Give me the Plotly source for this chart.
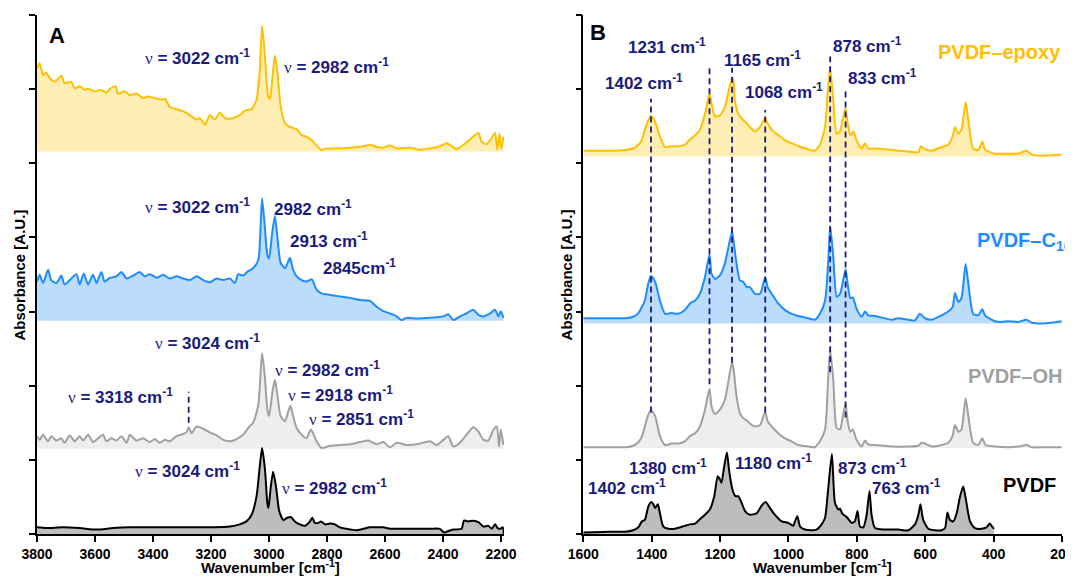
import plotly.graph_objects as go

# ---------------- Panel A data (3800-2190 cm-1), absorbance above each baseline ----------------
a_epoxy_wn = [3800, 3791, 3779, 3768, 3756, 3739, 3716, 3705, 3682, 3670, 3653, 3636, 3624, 3601, 3578, 3561,
              3549, 3529, 3521, 3497, 3480, 3457, 3434, 3417, 3394, 3371, 3359, 3342, 3319, 3296, 3273, 3250,
              3239, 3221, 3204, 3187, 3170, 3152, 3135, 3118, 3101, 3083, 3060, 3043, 3032, 3024, 3015, 3003,
              2997, 2988, 2980, 2972, 2960, 2945, 2928, 2905, 2888, 2871, 2853, 2836, 2819, 2802, 2767, 2721,
              2675, 2652, 2629, 2606, 2583, 2560, 2514, 2480, 2445, 2411, 2388, 2370, 2353, 2330, 2307, 2290,
              2278, 2267, 2250, 2232, 2221, 2213, 2206, 2199, 2192]
a_epoxy_abs = [1.12, 1.19, 1.03, 1.06, 0.99, 0.94, 1.02, 0.92, 0.94, 0.85, 0.88, 0.83, 0.85, 0.81, 0.83, 0.79,
               0.84, 0.88, 0.78, 0.81, 0.76, 0.78, 0.72, 0.74, 0.72, 0.70, 0.71, 0.60, 0.57, 0.54, 0.49, 0.43,
               0.45, 0.36, 0.49, 0.43, 0.52, 0.45, 0.44, 0.46, 0.49, 0.55, 0.57, 0.70, 1.10, 1.69, 1.33, 0.74,
               0.71, 1.01, 1.29, 1.10, 0.61, 0.38, 0.33, 0.30, 0.22, 0.20, 0.15, 0.08, 0.02, 0.04, 0.04, 0.05,
               0.07, 0.09, 0.06, 0.05, 0.08, 0.04, 0.05, 0.02, 0.04, 0.07, 0.11, 0.07, 0.03, 0.09, 0.16, 0.22,
               0.25, 0.13, 0.10, 0.18, 0.25, 0.02, 0.24, 0.04, 0.20]

a_c16_wn = [3800, 3791, 3779, 3762, 3751, 3733, 3716, 3705, 3687, 3664, 3653, 3639, 3624, 3607, 3595, 3578,
            3567, 3549, 3526, 3509, 3491, 3468, 3446, 3428, 3411, 3388, 3365, 3342, 3319, 3296, 3273, 3250,
            3227, 3204, 3181, 3158, 3135, 3118, 3106, 3089, 3072, 3055, 3037, 3029, 3024, 3016, 3006, 3000,
            2990, 2980, 2972, 2960, 2945, 2934, 2928, 2917, 2905, 2888, 2871, 2853, 2848, 2836, 2819, 2790,
            2756, 2721, 2687, 2652, 2629, 2606, 2583, 2560, 2543, 2526, 2491, 2445, 2399, 2382, 2365, 2342,
            2319, 2296, 2278, 2261, 2238, 2221, 2209, 2201, 2192]
a_c16_abs = [0.53, 0.62, 0.51, 0.69, 0.55, 0.51, 0.61, 0.49, 0.55, 0.63, 0.49, 0.64, 0.49, 0.62, 0.51, 0.66,
             0.53, 0.58, 0.60, 0.66, 0.57, 0.61, 0.66, 0.60, 0.63, 0.58, 0.62, 0.57, 0.60, 0.57, 0.55, 0.60,
             0.55, 0.52, 0.57, 0.55, 0.57, 0.51, 0.63, 0.61, 0.67, 0.71, 0.82, 1.29, 1.65, 1.34, 0.89, 0.84,
             1.16, 1.41, 1.16, 0.78, 0.71, 0.80, 0.85, 0.69, 0.60, 0.55, 0.53, 0.56, 0.53, 0.42, 0.37, 0.35,
             0.33, 0.31, 0.28, 0.27, 0.19, 0.13, 0.10, 0.06, 0.01, 0.04, 0.03, 0.04, 0.06, 0.09, 0.01, 0.06,
             0.10, 0.15, 0.08, 0.06, 0.10, 0.15, 0.06, 0.13, 0.04]

a_oh_wn = [3800, 3791, 3779, 3762, 3751, 3733, 3716, 3705, 3687, 3670, 3653, 3641, 3624, 3607, 3590, 3572,
           3561, 3544, 3526, 3509, 3491, 3480, 3457, 3434, 3411, 3394, 3377, 3359, 3342, 3319, 3302, 3285,
           3277, 3267, 3250, 3227, 3204, 3181, 3158, 3135, 3112, 3089, 3072, 3055, 3037, 3024, 3014, 3006,
           3000, 2988, 2980, 2972, 2960, 2945, 2934, 2926, 2917, 2905, 2888, 2871, 2856, 2848, 2836, 2819,
           2790, 2756, 2721, 2687, 2658, 2629, 2606, 2583, 2560, 2526, 2491, 2445, 2422, 2399, 2382, 2365,
           2342, 2319, 2296, 2278, 2261, 2244, 2226, 2215, 2207, 2201, 2192]
a_oh_abs = [0.17, 0.12, 0.19, 0.10, 0.17, 0.11, 0.14, 0.08, 0.18, 0.10, 0.17, 0.11, 0.19, 0.09, 0.14, 0.19,
            0.10, 0.14, 0.11, 0.17, 0.08, 0.19, 0.11, 0.14, 0.09, 0.13, 0.08, 0.12, 0.10, 0.17, 0.19, 0.22,
            0.29, 0.21, 0.30, 0.27, 0.22, 0.18, 0.12, 0.10, 0.13, 0.19, 0.28, 0.35, 0.59, 1.29, 0.95, 0.53,
            0.44, 0.77, 0.93, 0.75, 0.44, 0.37, 0.50, 0.58, 0.44, 0.28, 0.19, 0.14, 0.26, 0.21, 0.10, 0.01,
            0.04, 0.05, 0.06, 0.09, 0.11, 0.06, 0.09, 0.02, 0.08, 0.05, 0.06, 0.10, 0.05, 0.12, 0.17, 0.03,
            0.08, 0.19, 0.29, 0.23, 0.12, 0.11, 0.26, 0.30, 0.03, 0.26, 0.05]

a_pvdf_wn = [3800, 3768, 3710, 3653, 3595, 3538, 3480, 3423, 3365, 3308, 3250, 3193, 3135, 3101, 3078, 3060,
             3043, 3032, 3024, 3014, 3006, 3002, 2995, 2986, 2976, 2965, 2951, 2937, 2925, 2911, 2894, 2876,
             2859, 2851, 2842, 2830, 2821, 2807, 2790, 2773, 2756, 2733, 2698, 2675, 2652, 2629, 2606, 2583,
             2560, 2503, 2445, 2411, 2397, 2382, 2365, 2336, 2328, 2313, 2296, 2278, 2261, 2244, 2232, 2221,
             2212, 2203, 2194, 2190]
a_pvdf_abs = [0.09, 0.08, 0.09, 0.08, 0.06, 0.08, 0.09, 0.09, 0.09, 0.09, 0.09, 0.09, 0.10, 0.13, 0.17, 0.26,
              0.51, 0.91, 1.16, 0.87, 0.42, 0.35, 0.60, 0.84, 0.64, 0.31, 0.19, 0.22, 0.23, 0.17, 0.13, 0.11,
              0.17, 0.22, 0.15, 0.15, 0.17, 0.13, 0.14, 0.13, 0.09, 0.07, 0.05, 0.07, 0.09, 0.09, 0.09, 0.07,
              0.07, 0.07, 0.07, 0.07, 0.02, 0.04, 0.06, 0.07, 0.18, 0.17, 0.18, 0.16, 0.10, 0.11, 0.07, 0.13,
              0.08, 0.07, 0.09, -0.14]

# ---------------- Panel B data (1600-200 cm-1) ----------------
b_epoxy_wn = [1600, 1527, 1478, 1454, 1439, 1429, 1420, 1410, 1402, 1390, 1376, 1361, 1342, 1322, 1303, 1288,
              1273, 1259, 1244, 1231, 1225, 1215, 1200, 1186, 1165, 1161, 1157, 1147, 1132, 1122, 1113, 1098,
              1083, 1068, 1061, 1049, 1030, 1010, 991, 971, 942, 923, 908, 893, 884, 878, 869, 859, 849, 842,
              833, 827, 819, 810, 801, 786, 776, 767, 747, 698, 650, 620, 613, 601, 581, 552, 533, 520, 513,
              503, 494, 482, 474, 460, 445, 433, 424, 396, 357, 328, 304, 289, 260, 231, 201]
b_epoxy_abs = [0.08, 0.08, 0.09, 0.11, 0.16, 0.22, 0.36, 0.49, 0.55, 0.47, 0.27, 0.13, 0.14, 0.14, 0.16, 0.23,
               0.29, 0.36, 0.58, 0.85, 0.72, 0.54, 0.56, 0.67, 1.06, 1.03, 0.76, 0.58, 0.49, 0.45, 0.40, 0.34,
               0.40, 0.52, 0.45, 0.36, 0.29, 0.22, 0.18, 0.14, 0.10, 0.08, 0.16, 0.40, 0.94, 1.19, 0.76, 0.31,
               0.34, 0.49, 0.65, 0.45, 0.29, 0.34, 0.22, 0.11, 0.18, 0.11, 0.11, 0.09, 0.07, 0.06, 0.14, 0.10,
               0.08, 0.13, 0.16, 0.27, 0.40, 0.31, 0.36, 0.73, 0.49, 0.11, 0.09, 0.20, 0.09, 0.04, 0.04, 0.04,
               0.08, 0.03, 0.01, 0.02, 0.03]

b_c16_wn = [1600, 1527, 1478, 1454, 1439, 1429, 1420, 1410, 1402, 1390, 1376, 1361, 1342, 1322, 1303, 1288,
            1273, 1259, 1244, 1231, 1225, 1215, 1200, 1186, 1165, 1161, 1152, 1142, 1132, 1122, 1113, 1098,
            1083, 1068, 1061, 1049, 1030, 1010, 991, 971, 942, 923, 908, 893, 884, 878, 869, 859, 849, 842,
            833, 827, 819, 812, 801, 786, 776, 767, 747, 698, 679, 650, 630, 616, 601, 581, 552, 533, 520,
            513, 503, 494, 482, 474, 460, 445, 433, 424, 396, 377, 357, 328, 304, 289, 260, 231, 201]
b_c16_abs = [0.07, 0.07, 0.07, 0.09, 0.14, 0.22, 0.31, 0.54, 0.64, 0.56, 0.31, 0.13, 0.14, 0.13, 0.18, 0.27,
             0.31, 0.40, 0.63, 0.93, 0.67, 0.60, 0.65, 0.81, 1.24, 1.12, 0.81, 0.58, 0.56, 0.49, 0.49, 0.40,
             0.40, 0.62, 0.49, 0.40, 0.27, 0.18, 0.13, 0.10, 0.07, 0.05, 0.13, 0.31, 0.81, 1.31, 0.90, 0.36,
             0.40, 0.54, 0.73, 0.54, 0.34, 0.35, 0.20, 0.09, 0.16, 0.11, 0.10, 0.05, 0.07, 0.05, 0.04, 0.13,
             0.07, 0.05, 0.11, 0.16, 0.22, 0.41, 0.29, 0.34, 0.80, 0.54, 0.13, 0.11, 0.19, 0.10, 0.03, 0.02,
             0.03, 0.02, 0.05, 0.01, 0.00, 0.01, 0.03]

b_oh_wn = [1600, 1527, 1478, 1454, 1439, 1429, 1420, 1410, 1402, 1390, 1376, 1361, 1342, 1322, 1303, 1288,
           1273, 1259, 1244, 1231, 1225, 1215, 1200, 1186, 1165, 1161, 1152, 1142, 1132, 1122, 1113, 1098,
           1083, 1068, 1061, 1049, 1030, 1010, 991, 971, 942, 923, 908, 893, 884, 878, 869, 859, 849, 842,
           833, 827, 819, 812, 801, 786, 776, 767, 747, 698, 650, 620, 611, 601, 581, 552, 533, 520, 513,
           503, 494, 482, 474, 460, 445, 433, 424, 396, 357, 328, 304, 289, 260, 231, 201]
b_oh_abs = [0.01, 0.01, 0.01, 0.03, 0.08, 0.15, 0.29, 0.45, 0.51, 0.43, 0.16, 0.04, 0.06, 0.06, 0.09, 0.16,
            0.20, 0.29, 0.52, 0.80, 0.56, 0.46, 0.52, 0.65, 1.16, 1.08, 0.70, 0.47, 0.40, 0.37, 0.33, 0.29,
            0.31, 0.49, 0.36, 0.29, 0.20, 0.13, 0.09, 0.04, 0.02, 0.01, 0.09, 0.25, 0.92, 1.33, 0.92, 0.27,
            0.25, 0.40, 0.60, 0.36, 0.22, 0.25, 0.11, 0.02, 0.10, 0.05, 0.04, 0.02, 0.02, 0.03, 0.07, 0.06,
            0.02, 0.04, 0.07, 0.16, 0.31, 0.22, 0.25, 0.67, 0.43, 0.07, 0.04, 0.13, 0.04, 0.02, 0.01, 0.02,
            0.04, 0.01, 0.01, 0.01, 0.01]

b_pvdf_wn = [1600, 1527, 1478, 1454, 1439, 1429, 1420, 1410, 1402, 1395, 1390, 1382, 1376, 1366, 1351, 1332,
             1303, 1288, 1273, 1259, 1244, 1230, 1217, 1207, 1202, 1196, 1188, 1180, 1174, 1164, 1155, 1147,
             1137, 1127, 1113, 1093, 1079, 1067, 1054, 1040, 1020, 1001, 986, 981, 974, 966, 952, 932, 918,
             903, 893, 884, 873, 864, 854, 849, 842, 830, 815, 806, 798, 791, 781, 772, 763, 757, 747, 718,
             679, 650, 630, 620, 614, 606, 591, 572, 552, 542, 535, 528, 518, 508, 499, 489, 482, 469, 455,
             435, 421, 411, 406, 399]
b_pvdf_abs = [0.02, 0.03, 0.03, 0.05, 0.09, 0.17, 0.19, 0.37, 0.43, 0.40, 0.35, 0.40, 0.28, 0.10, 0.07, 0.07,
              0.11, 0.13, 0.14, 0.20, 0.26, 0.33, 0.51, 0.78, 0.75, 0.69, 0.91, 1.10, 0.87, 0.60, 0.51, 0.51,
              0.42, 0.31, 0.26, 0.28, 0.38, 0.43, 0.35, 0.26, 0.17, 0.15, 0.11, 0.17, 0.24, 0.10, 0.06, 0.05,
              0.06, 0.13, 0.22, 0.60, 1.08, 0.42, 0.33, 0.34, 0.27, 0.23, 0.15, 0.17, 0.31, 0.10, 0.09, 0.24,
              0.58, 0.26, 0.08, 0.06, 0.06, 0.05, 0.13, 0.26, 0.40, 0.19, 0.07, 0.05, 0.05, 0.08, 0.29, 0.19,
              0.17, 0.28, 0.49, 0.64, 0.49, 0.17, 0.08, 0.07, 0.09, 0.14, 0.11, 0.07]

# stacking offsets (baselines) of each spectrum
a_offsets = [5.16, 2.875, 1.15, 0.0]
b_offsets = [5.09, 2.84, 1.16, 0.0]

line_colors = ["#FFC000", "#1E8CFF", "#A0A0A0", "#000000"]
fill_colors = ["#FFEEB3", "#BBDCFB", "#EEEEEE", "#BDBDBD"]

# marked bands
b_band_wn = [1402, 1231, 1165, 1068, 878, 833]
b_band_top = [5.87, 6.33, 6.29, 5.72, 6.44, 5.98]
b_band_bottom = [1.64, 2.02, 2.31, 1.64, 2.18, 1.57]
a_band_wn = [3277]
a_band_top = [1.92]
a_band_bottom = [1.50]

a_ticks = [3800, 3600, 3400, 3200, 3000, 2800, 2600, 2400, 2200]
b_ticks = [1600, 1400, 1200, 1000, 800, 600, 400, 200]

navy = "#1A1A7E"
FONT = "Liberation Sans, Arial, sans-serif"

fig = go.Figure()


def add_spectrum(xa, ya, wn, vals, off, lc, fc):
    fig.add_trace(go.Scatter(x=[wn[0], wn[-1]], y=[off, off], mode="lines",
                             line=dict(width=0, color=fc), xaxis=xa, yaxis=ya,
                             showlegend=False, hoverinfo="skip"))
    fig.add_trace(go.Scatter(x=wn, y=[v + off for v in vals], mode="lines",
                             line=dict(width=2, color=lc, shape="spline", smoothing=0.6),
                             fill="tonexty", fillcolor=fc,
                             xaxis=xa, yaxis=ya, showlegend=False))


a_sets = [(a_epoxy_wn, a_epoxy_abs), (a_c16_wn, a_c16_abs), (a_oh_wn, a_oh_abs), (a_pvdf_wn, a_pvdf_abs)]
b_sets = [(b_epoxy_wn, b_epoxy_abs), (b_c16_wn, b_c16_abs), (b_oh_wn, b_oh_abs), (b_pvdf_wn, b_pvdf_abs)]
for i, (wn, vals) in enumerate(a_sets):
    add_spectrum("x", "y", wn, vals, a_offsets[i], line_colors[i], fill_colors[i])
for i, (wn, vals) in enumerate(b_sets):
    add_spectrum("x2", "y2", wn, vals, b_offsets[i], line_colors[i], fill_colors[i])

for w, t, b in zip(b_band_wn, b_band_top, b_band_bottom):
    fig.add_trace(go.Scatter(x=[w, w], y=[b, t], mode="lines", xaxis="x2", yaxis="y2",
                             line=dict(color=navy, width=1.8, dash="6px,4px"), showlegend=False))
for w, t, b in zip(a_band_wn, a_band_top, a_band_bottom):
    fig.add_trace(go.Scatter(x=[w, w], y=[b, t], mode="lines", xaxis="x", yaxis="y",
                             line=dict(color=navy, width=1.8, dash="6px,4px"), showlegend=False))

NU = "<span style='font-family:Liberation Serif;font-weight:normal'>ν</span>"


def nu(label):
    return NU + " <b>= " + label + " cm<sup>-1</sup></b>"


def cm(label):
    return "<b>" + label + " cm<sup>-1</sup></b>"


ann = []
a_labels = [
    (3248, 6.44, nu("3022")), (2768, 6.31, nu("2982")),
    (3246, 4.43, nu("3022")), (2848, 4.40, cm("2982")), (2794, 3.97, cm("2913")),
    (2688, 3.60, "<b>2845cm<sup>-1</sup></b>"),
    (3213, 2.59, nu("3024")), (2798, 2.23, nu("2982")), (2753, 1.89, nu("2918")),
    (2681, 1.56, nu("2851")), (3512, 1.86, nu("3318")),
    (3282, 0.87, nu("3024")), (2773, 0.63, nu("2982")),
]
for x, y, t in a_labels:
    ann.append(dict(x=x, y=y, xref="x", yref="y", text=t, showarrow=False, xanchor="center",
                    font=dict(family=FONT, size=17, color=navy)))
b_labels = [
    (1354, 6.58, "1231"), (1075, 6.40, "1165"), (1422, 6.09, "1402"), (1013, 5.98, "1068"),
    (769, 6.59, "878"), (726, 6.16, "833"),
    (1352, 0.91, "1380"), (1473, 0.63, "1402"), (1045, 0.97, "1180"), (754, 0.91, "873"), (655, 0.64, "763"),
]
for x, y, t in b_labels:
    ann.append(dict(x=x, y=y, xref="x2", yref="y2", text=cm(t), showarrow=False, xanchor="center",
                    font=dict(family=FONT, size=17, color=navy)))
names = [(382, 6.50, "PVDF–epoxy"), (311, 3.95, "PVDF–C<sub>16</sub>"), (338, 2.13, "PVDF–OH"), (294, 0.66, "PVDF")]
for (x, y, t), c in zip(names, line_colors):
    ann.append(dict(x=x, y=y, xref="x2", yref="y2", text="<b>" + t + "</b>", showarrow=False,
                    xanchor="center", font=dict(family=FONT, size=20, color=c)))
ann.append(dict(x=3732, y=6.73, xref="x", yref="y", text="<b>A</b>", showarrow=False, xanchor="center",
                font=dict(family=FONT, size=22, color="black")))
ann.append(dict(x=1556, y=6.76, xref="x2", yref="y2", text="<b>B</b>", showarrow=False, xanchor="center",
                font=dict(family=FONT, size=22, color="black")))
for xr in ["x domain", "x2 domain"]:
    ann.append(dict(x=0.5, y=-0.041, xref=xr, yref="paper", xanchor="center", yanchor="top",
                    text="<b>Wavenumber [cm<sup>-1</sup>]</b>", showarrow=False,
                    font=dict(family=FONT, size=15, color="black")))
for xp in [-0.0166, 0.517]:
    ann.append(dict(x=xp, y=0.5, xref="paper", yref="paper", textangle=-90, xanchor="center",
                    yanchor="middle", text="<b>Absorbance [A.U.]</b>", showarrow=False,
                    font=dict(family=FONT, size=15, color="black")))

xaxis_common = dict(showgrid=False, zeroline=False, showline=True, linecolor="black", linewidth=1.5,
                    ticks="outside", ticklen=6, tickwidth=1.5, tickcolor="black",
                    tickfont=dict(family=FONT, size=14, color="black"))
yaxis_common = dict(showgrid=False, zeroline=False, showline=True, linecolor="black", linewidth=1.5,
                    ticks="outside", ticklen=6, tickwidth=1.5, tickcolor="black", showticklabels=False,
                    range=[0, 7], tickvals=[0, 1, 2, 3, 4, 5, 6, 7])

# margins compensate the 8 px default page margin of the HTML body
fig.update_layout(
    width=1073, height=581,
    margin=dict(l=29, r=19, t=7, b=55),
    paper_bgcolor="white", plot_bgcolor="white",
    xaxis=dict(domain=[0, 0.4556], range=[3800, 2190], anchor="y",
               tickvals=a_ticks, ticktext=["<b>%d</b>" % t for t in a_ticks], **xaxis_common),
    xaxis2=dict(domain=[0.533, 1], range=[1600, 200], anchor="y2",
                tickvals=b_ticks, ticktext=["<b>%d</b>" % t for t in b_ticks], **xaxis_common),
    yaxis=dict(domain=[0, 1], anchor="x", **yaxis_common),
    yaxis2=dict(domain=[0, 1], anchor="x2", **yaxis_common),
    annotations=ann,
    showlegend=False,
)

fig.write_html("out.html")
